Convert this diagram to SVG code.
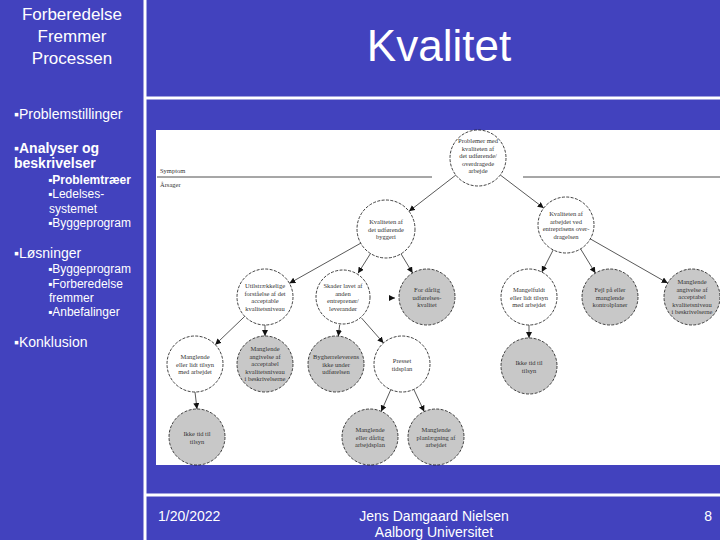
<svg xmlns="http://www.w3.org/2000/svg" width="720" height="540" viewBox="0 0 720 540">
<style>
.t{font-family:"Liberation Sans",Arial,sans-serif;fill:#fff}
.n circle{stroke:#111;stroke-width:0.8;stroke-dasharray:3 1.4}
.w{fill:#fff}
.g{fill:#c8c8c8}
.n text{font-family:"Liberation Serif","Times New Roman",serif;font-size:6.5px;fill:#333;text-anchor:middle}
.c path{stroke:#111;stroke-width:0.7;fill:none;marker-end:url(#ah)}
</style>
<defs>
<marker id="ah" markerUnits="userSpaceOnUse" markerWidth="7" markerHeight="7" refX="6" refY="3" orient="auto">
<path d="M0,0 L6,3 L0,6 z" fill="#111"/>
</marker>
</defs>
<rect x="0" y="0" width="720" height="540" fill="#4242BE"/>
<g stroke="#fff" stroke-width="3">
<line x1="145" y1="0" x2="145" y2="540"/>
<line x1="145" y1="98" x2="720" y2="98"/>
<line x1="145" y1="495" x2="720" y2="495"/>
</g>
<g id="header">
<text class="t" x="72" y="20" font-size="17" text-anchor="middle">Forberedelse</text>
<text class="t" x="72" y="42" font-size="17" text-anchor="middle">Fremmer</text>
<text class="t" x="72" y="64" font-size="17" text-anchor="middle">Processen</text>
<text class="t" x="439" y="61" font-size="44" text-anchor="middle">Kvalitet</text>
</g>
<g id="outline">
<text class="t" x="14" y="119" font-size="14">▪Problemstillinger</text>
<text class="t" x="14" y="153" font-size="14" font-weight="bold">▪Analyser og</text>
<text class="t" x="14" y="168" font-size="14" font-weight="bold">beskrivelser</text>
<text class="t" x="48" y="184" font-size="12" font-weight="bold">▪Problemtræer</text>
<text class="t" x="48" y="198" font-size="12">▪Ledelses-</text>
<text class="t" x="49" y="213" font-size="12">systemet</text>
<text class="t" x="48" y="227" font-size="12">▪Byggeprogram</text>
<text class="t" x="14" y="258" font-size="14">▪Løsninger</text>
<text class="t" x="48" y="273" font-size="12">▪Byggeprogram</text>
<text class="t" x="48" y="288" font-size="12">▪Forberedelse</text>
<text class="t" x="49" y="302" font-size="12">fremmer</text>
<text class="t" x="48" y="316" font-size="12">▪Anbefalinger</text>
<text class="t" x="14" y="347" font-size="14">▪Konklusion</text>
</g>
<g id="footer">
<text class="t" x="158" y="521" font-size="14">1/20/2022</text>
<text class="t" x="434" y="521" font-size="14" text-anchor="middle">Jens Damgaard Nielsen</text>
<text class="t" x="434" y="537" font-size="14" text-anchor="middle">Aalborg Universitet</text>
<text class="t" x="712" y="521" font-size="14" text-anchor="end">8</text>
</g>
<rect x="156" y="130" width="564" height="335" fill="#fff"/>
<g id="divider">
<line x1="157" y1="177" x2="432" y2="177" stroke="#222" stroke-width="0.8"/>
<line x1="523" y1="177" x2="720" y2="177" stroke="#222" stroke-width="0.8"/>
<text x="160" y="173" font-family="Liberation Serif,serif" font-size="6.5" fill="#333">Symptom</text>
<text x="160" y="187" font-family="Liberation Serif,serif" font-size="6.5" fill="#333">Årsager</text>
</g>
<g class="c" id="connectors">
<path d="M455.8,175.1 L409,211.3"/>
<path d="M500.3,175 L543.7,208"/>
<path d="M360.7,243.2 L289.4,283.3"/>
<path d="M370.5,253.5 L358,273.3"/>
<path d="M401,253.8 L412.6,273"/>
<path d="M553.2,249.9 L541.8,272.1"/>
<path d="M580.6,248.9 L595.4,273.1"/>
<path d="M590.3,238.9 L667.7,283.1"/>
<path d="M244.8,316.3 L215.2,344.7"/>
<path d="M265,325 L265,336"/>
<path d="M339.7,324.8 L338.3,336.2"/>
<path d="M361.5,318 L383.5,343"/>
<path d="M529,325 L529,338"/>
<path d="M195,392 L197,409"/>
<path d="M390.8,389.6 L381.2,411.4"/>
<path d="M413.8,389.4 L424.2,411.6"/>
<path d="M392,298 L395,298"/>
</g>
<g class="n" id="n1"><circle class="w" cx="478" cy="158" r="28"/>
<text x="478" y="143">Problemer med</text><text x="478" y="150.5">kvaliteten af</text><text x="478" y="158">det udførende/</text><text x="478" y="165.5">overdragede</text><text x="478" y="173">arbejde</text></g>
<g class="n" id="n2"><circle class="w" cx="386" cy="229" r="29"/>
<text x="386" y="224">Kvaliteten af</text><text x="386" y="231.5">det udførende</text><text x="386" y="239">byggeri</text></g>
<g class="n" id="n3"><circle class="w" cx="566" cy="225" r="28"/>
<text x="566" y="216">Kvaliteten af</text><text x="566" y="223.5">arbejdet ved</text><text x="566" y="231">entreprisens over-</text><text x="566" y="238.5">dragelsen</text></g>
<g class="n" id="n4"><circle class="w" cx="265" cy="297" r="28"/>
<text x="265" y="288">Utilstrækkelige</text><text x="265" y="295.5">forståelse af det</text><text x="265" y="303">acceptable</text><text x="265" y="310.5">kvalitetsniveau</text></g>
<g class="n" id="n5"><circle class="w" cx="343" cy="297" r="27"/>
<text x="343" y="288">Skader lavet af</text><text x="343" y="295.5">anden</text><text x="343" y="303">entreprenør/</text><text x="343" y="310.5">leverandør</text></g>
<g class="n" id="n6"><circle class="g" cx="427" cy="297" r="28"/>
<text x="427" y="292">For dårlig</text><text x="427" y="299.5">udførelses-</text><text x="427" y="307">kvalitet</text></g>
<g class="n" id="n7"><circle class="w" cx="529" cy="297" r="28"/>
<text x="529" y="292">Mangelfuldt</text><text x="529" y="299.5">eller lidt tilsyn</text><text x="529" y="307">med arbejdet</text></g>
<g class="n" id="n8"><circle class="g" cx="610" cy="297" r="28"/>
<text x="610" y="292">Fejl på eller</text><text x="610" y="299.5">manglende</text><text x="610" y="307">kontrolplaner</text></g>
<g class="n" id="n9"><circle class="g" cx="692" cy="297" r="28"/>
<text x="692" y="284">Manglende</text><text x="692" y="291.5">angivelse af</text><text x="692" y="299">acceptabel</text><text x="692" y="306.5">kvalitetsniveau</text><text x="692" y="314">i beskrivelserne</text></g>
<g class="n" id="n10"><circle class="w" cx="195" cy="364" r="28"/>
<text x="195" y="359">Manglende</text><text x="195" y="366.5">eller lidt tilsyn</text><text x="195" y="374">med arbejdet</text></g>
<g class="n" id="n11"><circle class="g" cx="265" cy="364" r="28"/>
<text x="265" y="351">Manglende</text><text x="265" y="358.5">angivelse af</text><text x="265" y="366">acceptabel</text><text x="265" y="373.5">kvalitetsniveau</text><text x="265" y="381">i beskrivelserne</text></g>
<g class="n" id="n12"><circle class="g" cx="336" cy="364" r="28"/>
<text x="336" y="359">Bygherreleverens</text><text x="336" y="366.5">ikke under</text><text x="336" y="374">udførelsen</text></g>
<g class="n" id="n13"><circle class="w" cx="402" cy="364" r="28"/>
<text x="402" y="363">Presset</text><text x="402" y="370.5">tidsplan</text></g>
<g class="n" id="n14"><circle class="g" cx="529" cy="366" r="28"/>
<text x="529" y="365">Ikke tid til</text><text x="529" y="372.5">tilsyn</text></g>
<g class="n" id="n15"><circle class="g" cx="197" cy="437" r="28"/>
<text x="197" y="436">Ikke tid til</text><text x="197" y="443.5">tilsyn</text></g>
<g class="n" id="n16"><circle class="g" cx="370" cy="437" r="28"/>
<text x="370" y="432">Manglende</text><text x="370" y="439.5">eller dårlig</text><text x="370" y="447">arbejdsplan</text></g>
<g class="n" id="n17"><circle class="g" cx="436" cy="437" r="28"/>
<text x="436" y="432">Manglende</text><text x="436" y="439.5">planlægning af</text><text x="436" y="447">arbejdet</text></g>
</svg>
